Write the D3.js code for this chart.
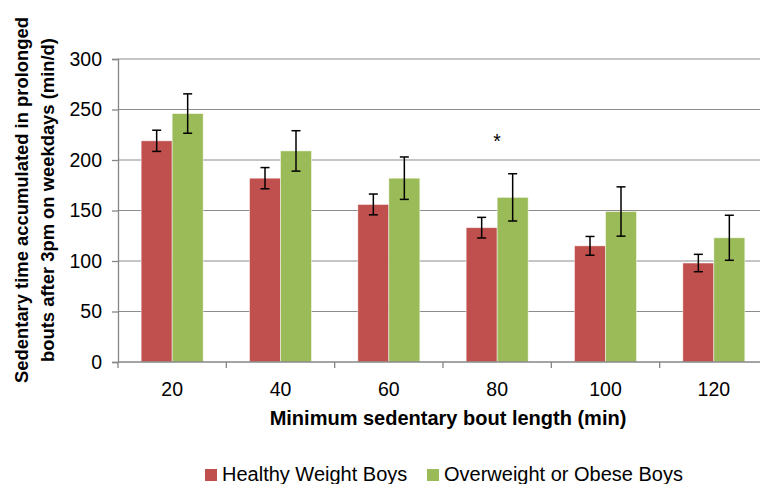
<!DOCTYPE html>
<html><head><meta charset="utf-8">
<script src="https://cdn.jsdelivr.net/npm/d3@7"></script>
<style>body{margin:0;background:#fff;overflow:hidden}svg{display:block;font-family:"Liberation Sans",Arial,sans-serif}</style>
</head><body>
<script>
const categories = ["20","40","60","80","100","120"];
const healthy = [219, 182, 156, 133, 115, 98];
const healthyErr = [10.5, 10.5, 10.3, 10.2, 9.3, 8.6];
const obese = [246, 209, 182, 163, 149, 123];
const obeseErr = [19.5, 20, 21, 23.4, 24.4, 22.3];
const yTicks = [0, 50, 100, 150, 200, 250, 300];
const seriesNames = ["Healthy Weight Boys", "Overweight or Obese Boys"];
const colors = ["#C0504D", "#9BBB59"];
const significant = ["80"];

const W = 760, H = 484;
const m = {left: 118, right: 768, top: 59, bottom: 362};
const svg = d3.select("body").append("svg").attr("width", W).attr("height", H);

const x = d3.scaleBand().domain(categories).range([m.left, m.right]).paddingInner(0).paddingOuter(0);
const y = d3.scaleLinear().domain([0, 300]).range([m.bottom, m.top]);
const barW = 31;

// gridlines
svg.append("g").selectAll("line").data(yTicks.filter(d => d > 0)).join("line")
  .attr("x1", m.left).attr("x2", m.right)
  .attr("y1", d => y(d)).attr("y2", d => y(d))
  .attr("stroke", "#8c8c8c").attr("stroke-width", 1.2);

const series = [
  {vals: healthy, err: healthyErr, color: colors[0], off: -barW},
  {vals: obese, err: obeseErr, color: colors[1], off: 0}
];
series.forEach(s => {
  const g = svg.append("g");
  g.selectAll("rect").data(categories).join("rect")
    .attr("x", (c) => x(c) + x.bandwidth()/2 + s.off)
    .attr("width", barW)
    .attr("y", (c, i) => y(s.vals[i]))
    .attr("height", (c, i) => y(0) - y(s.vals[i]))
    .attr("fill", s.color)
    .attr("stroke", "#ffffff").attr("stroke-opacity", 0.6).attr("stroke-width", 0.8);
});

// axes
const yAxis = d3.axisLeft(y).tickValues(yTicks).tickSize(6).tickPadding(10);
const gy = svg.append("g").attr("transform", `translate(${m.left},0)`).call(yAxis);
gy.select(".domain").attr("stroke", "#868686").attr("stroke-width", 1.3);
gy.selectAll(".tick line").attr("stroke", "#868686").attr("stroke-width", 1.3);
gy.selectAll(".tick text").attr("font-size", 19.5).attr("fill", "#000").attr("font-family", "Liberation Sans, Arial, sans-serif");

const xTickScale = d3.scaleLinear().domain([0, categories.length]).range([m.left, m.right]);
const gx = svg.append("g").attr("transform", `translate(0,${m.bottom})`);
gx.append("line").attr("x1", m.left).attr("x2", m.right).attr("stroke", "#868686").attr("stroke-width", 1.3);
gx.selectAll("line.tk").data(d3.range(categories.length + 1)).join("line").attr("class", "tk")
  .attr("x1", i => xTickScale(i)).attr("x2", i => xTickScale(i)).attr("y1", 0).attr("y2", 6)
  .attr("stroke", "#868686").attr("stroke-width", 1.3);
gx.selectAll("text").data(categories).join("text")
  .attr("x", c => x(c) + x.bandwidth()/2).attr("y", 34)
  .attr("text-anchor", "middle").attr("font-size", 19.5).text(c => c);

// error bars
series.forEach(s => {
  const g = svg.append("g").attr("stroke", "#000").attr("stroke-width", 1.5);
  categories.forEach((c, i) => {
    const cx = x(c) + x.bandwidth()/2 + s.off + barW/2;
    const y1 = y(s.vals[i] + s.err[i]), y2 = y(s.vals[i] - s.err[i]);
    g.append("line").attr("x1", cx).attr("x2", cx).attr("y1", y1).attr("y2", y2);
    g.append("line").attr("x1", cx - 4.5).attr("x2", cx + 4.5).attr("y1", y1).attr("y2", y1);
    g.append("line").attr("x1", cx - 4.5).attr("x2", cx + 4.5).attr("y1", y2).attr("y2", y2);
  });
});

// significance marker
svg.selectAll("text.sig").data(significant).join("text").attr("class", "sig")
  .attr("x", c => x(c) + x.bandwidth()/2).attr("y", 148)
  .attr("text-anchor", "middle").attr("font-size", 19.5).text("*");

// y title
const yt = svg.append("text").attr("transform", "translate(0,200) rotate(-90)")
  .attr("text-anchor", "middle").attr("font-weight", "bold").attr("font-size", 18.4);
yt.append("tspan").attr("x", 0).attr("y", 28).text("Sedentary time accumulated in prolonged");
yt.append("tspan").attr("x", 0).attr("y", 54).text("bouts after 3pm on weekdays (min/d)");

// x title
svg.append("text").attr("x", 448).attr("y", 425).attr("text-anchor", "middle")
  .attr("font-weight", "bold").attr("font-size", 20).text("Minimum sedentary bout length (min)");

// legend
const legX = [205, 427];
const lg = svg.append("g");
seriesNames.forEach((n, i) => {
  lg.append("rect").attr("x", legX[i]).attr("y", 469).attr("width", 12).attr("height", 12).attr("fill", colors[i]);
  lg.append("text").attr("x", legX[i] + 17).attr("y", 481).attr("font-size", 20).text(n);
});
</script>
</body></html>
